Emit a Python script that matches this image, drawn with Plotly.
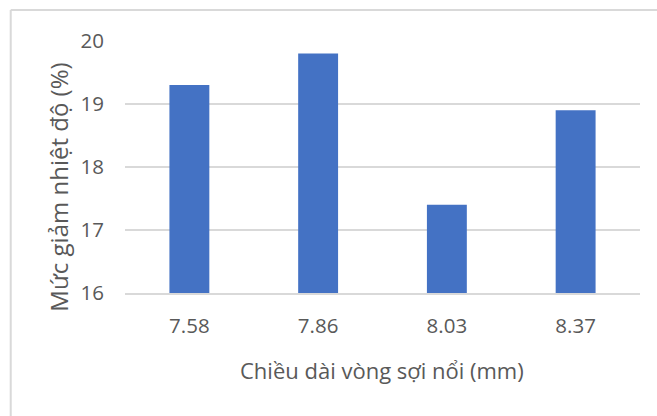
import plotly.graph_objects as go

# Loop length of floating yarn (mm) and temperature reduction (%)
categories = ["7.58", "7.86", "8.03", "8.37"]
reduction = [19.3, 19.8, 17.4, 18.9]
y_ticks = [16, 17, 18, 19, 20]

W, H = 657, 416
ML, MR, MT, MB = 124.5, 16.5, 41, 123
pw, ph = W - ML - MR, H - MT - MB

def px(x):
    return (x - ML) / pw

def py(y):
    return (H - MB - y) / ph

TEXT = "#595959"
GRID = "#d9d9d9"
FONT = "Open Sans"

fig = go.Figure(
    go.Bar(
        x=categories,
        y=reduction,
        marker=dict(color="#4472C4", line=dict(width=0)),
        width=0.31,
    )
)

fig.update_layout(
    width=W,
    height=H,
    margin=dict(l=ML, r=MR, t=MT, b=MB),
    paper_bgcolor="white",
    plot_bgcolor="white",
    showlegend=False,
    font=dict(family=FONT, color=TEXT, size=20),
    xaxis=dict(
        type="category",
        showgrid=False,
        showline=True,
        linecolor=GRID,
        linewidth=1.5,
        ticks="",
        ticklabelstandoff=14,
        tickfont=dict(size=20.5, color=TEXT),
    ),
    yaxis=dict(
        range=[16, 20],
        tickvals=y_ticks,
        showgrid=True,
        gridcolor=GRID,
        gridwidth=1.5,
        zeroline=False,
        showline=False,
        ticks="",
        ticklabelstandoff=20,
        tickfont=dict(size=20.5, color=TEXT),
    ),
    shapes=[
        dict(type="line", xref="paper", yref="paper",
             x0=px(10), x1=px(W + 5), y0=py(10), y1=py(10),
             line=dict(color=GRID, width=2)),
        dict(type="line", xref="paper", yref="paper",
             x0=px(10), x1=px(10), y0=py(10), y1=py(H + 5),
             line=dict(color=GRID, width=2)),
    ],
    annotations=[
        dict(text="Chiều dài vòng sợi nổi (mm)", xref="paper", yref="paper",
             x=px(382), y=py(370), xanchor="center", yanchor="middle",
             showarrow=False, font=dict(size=22, color=TEXT)),
        dict(text="Mức giảm nhiệt độ (%)", xref="paper", yref="paper",
             x=px(58), y=py(187), xanchor="center", yanchor="middle",
             textangle=-90, showarrow=False, font=dict(size=24, color=TEXT)),
    ],
)

fig.write_html("out.html")
